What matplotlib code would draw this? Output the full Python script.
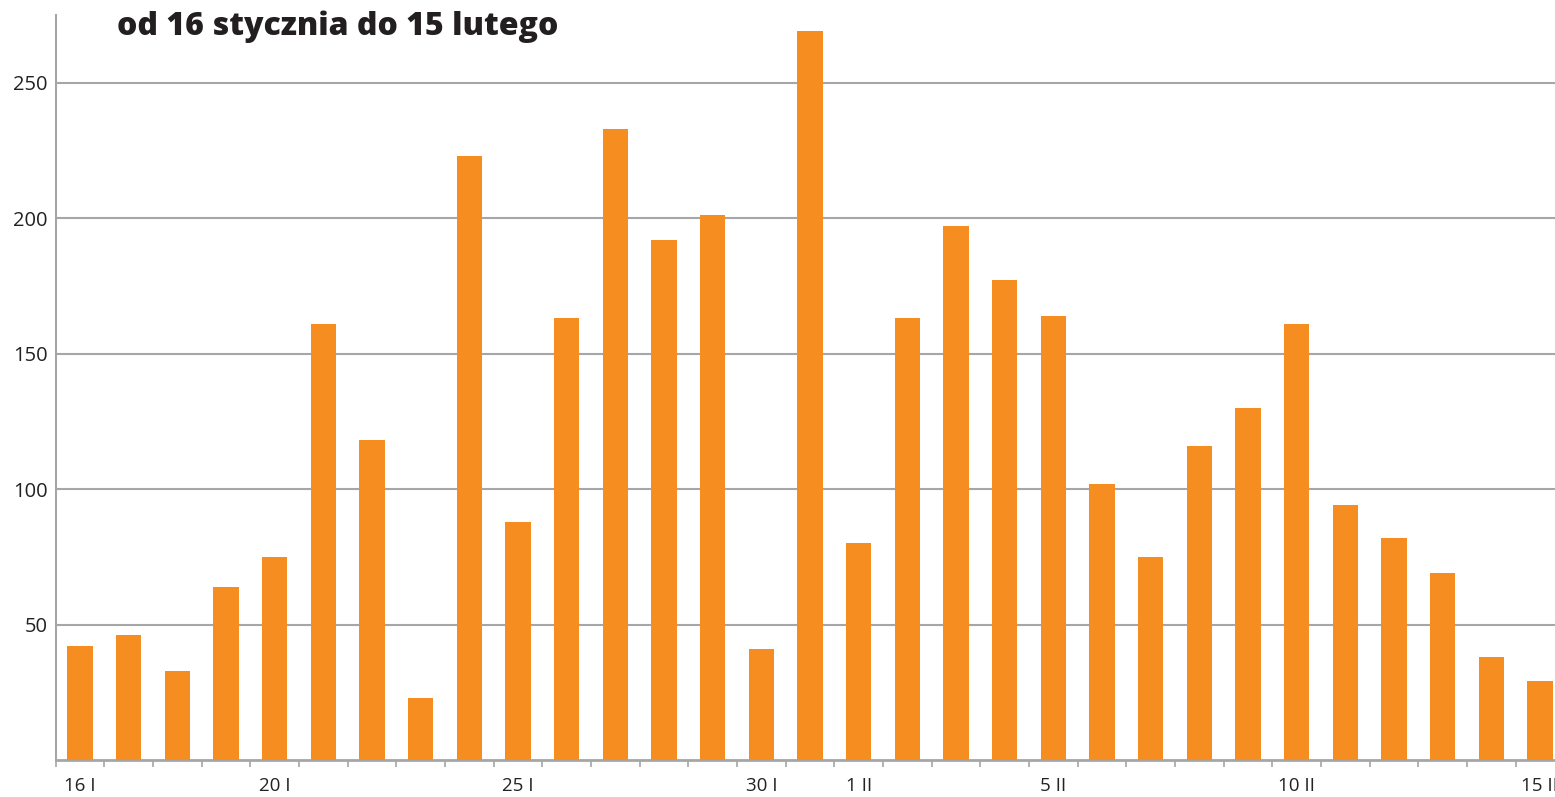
import matplotlib.pyplot as plt
import numpy as np

days = ["16 I", "17 I", "18 I", "19 I", "20 I", "21 I", "22 I", "23 I", "24 I", "25 I",
        "26 I", "27 I", "28 I", "29 I", "30 I", "31 I", "1 II", "2 II", "3 II", "4 II",
        "5 II", "6 II", "7 II", "8 II", "9 II", "10 II", "11 II", "12 II", "13 II", "14 II",
        "15 II"]
values = [42, 46, 33, 64, 75, 161, 118, 23, 223, 88,
          163, 233, 192, 201, 41, 269, 80, 163, 197, 177,
          164, 102, 75, 116, 130, 161, 94, 82, 69, 38,
          29]
labeled_days = ["16 I", "20 I", "25 I", "30 I", "1 II", "5 II", "10 II", "15 II"]
y_ticks = [50, 100, 150, 200, 250]

BAR = "#F68D20"
GRID = "#A6A6A6"

plt.rcParams["font.family"] = ["Open Sans", "DejaVu Sans"]

fig = plt.figure(figsize=(15.55, 7.97), dpi=100)
ax = fig.add_axes([55.7 / 1555, 1 - 760 / 797, 1 - 55.7 / 1555, (760 - 15) / 797])

x = np.arange(len(days))
ax.bar(x, values, width=0.52, color=BAR, zorder=3)

ax.set_yticks(y_ticks)
ax.set_yticklabels([str(v) for v in y_ticks], fontsize=14.5, color="#222222",
                   va="center_baseline")
ax.tick_params(axis="y", length=0, pad=6)
ax.grid(axis="y", color=GRID, linewidth=1.5, zorder=0)

major = [days.index(d) for d in labeled_days]
ax.set_xticks(major)
ax.set_xticklabels(labeled_days, fontsize=13.5, color="#222222")
ax.set_xticks(np.arange(-0.5, len(days), 1.0), minor=True)
ax.tick_params(axis="x", which="major", length=0, pad=12)
ax.tick_params(axis="x", which="minor", length=5, width=1.2, color=GRID)

# set limits after ticks, otherwise set_xticks widens them
ax.set_xlim(-0.5, 30.31)
ax.set_ylim(0, 275)

for side in ["top", "right"]:
    ax.spines[side].set_visible(False)
ax.spines["left"].set_color(GRID)
ax.spines["left"].set_linewidth(1.5)
ax.spines["bottom"].set_color(GRID)
ax.spines["bottom"].set_linewidth(2)

fig.text(117 / 1555, 1 - 27 / 797, "od 16 stycznia do 15 lutego", fontsize=23,
         fontweight="heavy", color="#231F20", va="center", ha="left")

fig.savefig("out.png", dpi=100)
